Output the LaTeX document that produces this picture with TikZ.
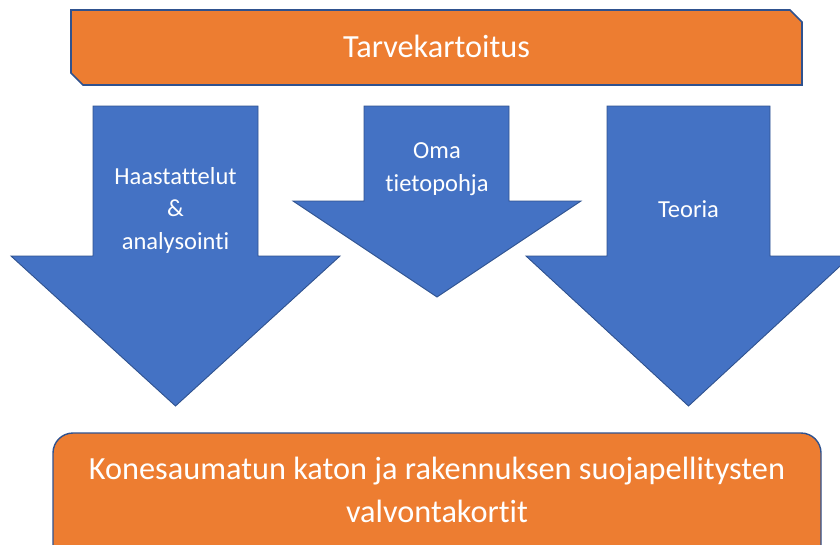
\documentclass[tikz,border=0pt]{standalone}
\usepackage{fontspec}
\setmainfont{Carlito}[Ligatures=NoCommon]
\definecolor{offorange}{HTML}{ED7D31}
\definecolor{offblue}{HTML}{4472C4}
\definecolor{offline}{HTML}{2F528F}
\begin{document}
\begin{tikzpicture}[x=1pt,y=-1pt,
  orangebox/.style={fill=offorange,draw=offline,line width=1.6pt},
  bluearrow/.style={fill=offblue,draw=offline,line width=0.9pt,line join=miter},
  arrowtext/.style={text=white,align=center,inner sep=0pt,font=\fontsize{24.5}{32.5}\selectfont},
  bigtext/.style={text=white,align=center,inner sep=0pt,font=\fontsize{32.3}{43}\selectfont}]
\useasboundingbox (0,0) rectangle (840,544);
\clip (0,0) rectangle (840,544);
% top box
\draw[orangebox] (71,10) -- (790,10) -- (802,22) -- (802,85) -- (83,85) -- (71,73) -- cycle;
\node[bigtext] (top) at (436.5,46) {Tarvekartoitus};
% arrows
\draw[bluearrow] (93,106) -- (258,106) -- (258,256) -- (340,256) -- (175.5,406) -- (11,256) -- (93,256) -- cycle;
\draw[bluearrow] (364,106) -- (509,106) -- (509,201) -- (581,201) -- (437,297) -- (293,201) -- (364,201) -- cycle;
\draw[bluearrow] (607,106) -- (770,106) -- (770,256) -- (851,256) -- (688.5,406) -- (526,256) -- (607,256) -- cycle;
\node[arrowtext] (a1) at (175.5,210) {Haastattelut\\\&\\analysointi};
\node[arrowtext] (a2) at (437,169) {Oma\\tietopohja};
\node[arrowtext] (a3) at (688.5,209) {Teoria};
% bottom box
\draw[orangebox,line width=1.4pt,rounded corners=20pt] (53,433) rectangle (821,575);
\node[bigtext] (bot) at (437,490) {Konesaumatun katon ja rakennuksen suojapellitysten\\valvontakortit};
\end{tikzpicture}
\end{document}
